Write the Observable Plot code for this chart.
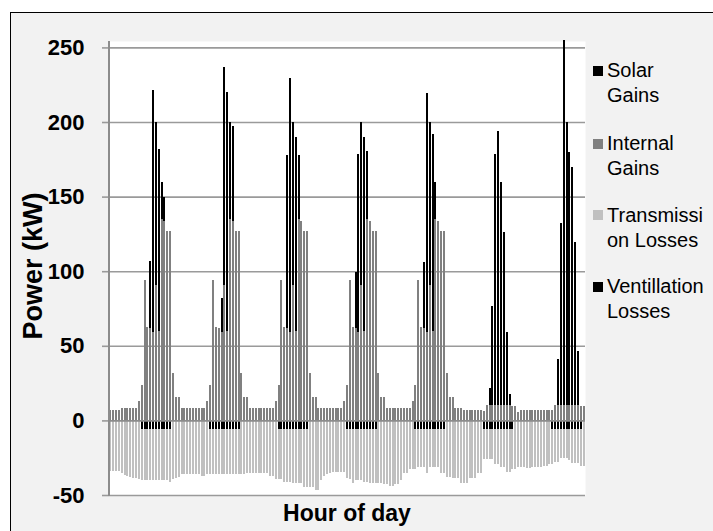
<!DOCTYPE html>
<html><head><meta charset="utf-8">
<script src="https://cdn.jsdelivr.net/npm/d3@7"></script>
<script src="https://cdn.jsdelivr.net/npm/@observablehq/plot@0.6"></script>
<style>
html,body{margin:0;padding:0;background:#fff;}
#wrap{position:relative;width:713px;height:531px;overflow:hidden;font-family:"Liberation Sans",Arial,sans-serif;}
#bg{position:absolute;left:10px;top:12px;width:800px;height:600px;border:1px solid #000;background:#f2f2f2;}
#chart{position:absolute;left:0;top:0;}
#axisline{position:absolute;left:108.2px;top:41px;width:1.7px;height:455px;background:#8c8c8c;}
.legsq{position:absolute;left:593px;width:10px;height:10px;}
.legtx{position:absolute;left:607px;font-size:20px;line-height:25px;color:#000;white-space:nowrap;}
#xtitle{position:absolute;left:347px;top:502px;transform:translateX(-50%);font-size:23px;line-height:23px;font-weight:bold;white-space:nowrap;color:#000;}
#ytitle{position:absolute;left:33px;top:266px;transform:translate(-50%,-50%) rotate(-90deg);font-size:27px;line-height:27px;font-weight:bold;white-space:nowrap;color:#000;}
</style></head>
<body>
<div id="wrap"><div id="bg"></div><div id="chart"></div><div id="axisline"></div>
<div id="xtitle">Hour of day</div><div id="ytitle">Power (kW)</div>
</div>
<script>
// Hour-of-week categories (167 bars)
const hours = d3.range(167);
const yTicks = [-50, 0, 50, 100, 150, 200, 250];

// Internal gains (kW), one line per day
const internalGains = [
 6.7,6.7,6.7,6.7,8,8,8,8,8,8,12.7,23.5,94,62.6,62,59,90.6,60,135,133.5,127,127,32,15.6,
 15.6,8,8,8,8,8,8,8,8,8,12.7,23.5,94,62.6,62,59,90.6,60,135,133.5,127,127,32,15.6,
 15.6,8,8,8,8,8,8,8,8,8,12.7,23.5,94,62.6,62,59,90.6,60,135,133.5,127,127,32,15.6,
 15.6,8,8,8,8,8,8,8,8,8,12.7,23.5,94,62.6,62,59,90.6,60,135,133.5,127,127,32,15.6,
 15.6,8,8,8,8,8,8,8,8,8,12.7,23.5,94,62.6,62,59,90.6,60,135,133.5,127,127,32,15.6,
 15.6,8,8,8,6.7,6.7,6.7,6.7,6.7,6.7,6.7,6,10,10,10,10,10,10,10,10,10,9.4,9.4,5.4,
 6.7,6.7,6.7,6.7,6.7,6.7,6.7,6.7,6.7,6.7,6.7,6.7,10,10,10,10,10,10,10,10,10,9.4,9.4
];
// Solar gains (kW), stacked on internal gains
const solarGains = [
 0,0,0,0,0,0,0,0,0,0,0,0,0,0,45,162.5,109.4,122,24.5,16.5,0,0,0,0,
 0,0,0,0,0,0,0,0,0,0,0,0,0,0,0,23,146.4,160,65,63.5,0,0,0,0,
 0,0,0,0,0,0,0,0,0,0,0,0,0,0,116,170.5,109.4,130,43,0,0,0,0,0,
 0,0,0,0,0,0,0,0,0,0,0,0,0,0,37.5,119.5,109.4,130,45.5,0,0,0,0,0,
 0,0,0,0,0,0,0,0,0,0,0,0,0,0,44,160.6,109.4,132,25,0,0,0,0,0,
 0,0,0,0,0,0,0,0,0,0,0,0,0,12,67,168.5,184,149.5,116,49,8,0,0,0,
 0,0,0,0,0,0,0,0,0,0,0,0,0,31,122,245,190,170,160,109.5,36.3,0,0
];
// Ventilation losses (kW)
const ventilationLosses = [
 0,0,0,0,0,0,0,0,0,0,0,-6,-6,-6,-6,-6,-6,-6,-6,-6,-6,-6,0,0,
 0,0,0,0,0,0,0,0,0,0,0,-6,-6,-6,-6,-6,-6,-6,-6,-6,-6,-6,0,0,
 0,0,0,0,0,0,0,0,0,0,0,-6,-6,-6,-6,-6,-6,-6,-6,-6,-6,-6,0,0,
 0,0,0,0,0,0,0,0,0,0,0,-6,-6,-6,-6,-6,-6,-6,-6,-6,-6,-6,0,0,
 0,0,0,0,0,0,0,0,0,0,0,-6,-6,-6,-6,-6,-6,-6,-6,-6,-6,-6,0,0,
 0,0,0,0,0,0,0,0,0,0,0,-6,-6,-6,-6,-6,-6,-6,-6,-6,-6,-6,0,0,
 0,0,0,0,0,0,0,0,0,0,0,-6,-6,-6,-6,-6,-6,-6,-6,-6,-6,-6,0
];
// Transmission losses (kW), stacked below ventilation losses
const transmissionLosses = [
 -34,-34,-34,-34,-35.5,-36.5,-37,-37.7,-38.4,-38.4,-39,-33.7,-33.7,-33.7,-33.7,-33.7,-33.7,-33.7,-33.7,-33.7,-33.7,-35.5,-39.5,-38.5,
 -38,-36,-36,-36,-36,-36,-36,-36,-37,-37,-36,-30,-30,-30,-30,-30,-30,-30,-30,-30,-30,-30,-36,-36,
 -35,-35,-35,-35,-35,-35,-35,-35,-37,-37,-39,-33,-33,-35,-35,-35,-36,-36,-36,-36,-38.4,-38.4,-44.4,-44.4,
 -46.5,-46.5,-40,-37.5,-36,-35,-34.3,-34.3,-34.3,-34.3,-34.3,-32.8,-33.5,-35.7,-34,-34,-34,-35.2,-35.2,-35.7,-35.7,-35.7,-41.7,-41.7,
 -42.6,-42.6,-43.7,-43.7,-42.6,-42.6,-40,-35.5,-35.5,-32.8,-32.8,-26.8,-25.5,-25.5,-25.5,-29,-25.5,-25.5,-25.5,-25.5,-29.5,-29.5,-37.7,-37.7,
 -38.8,-38.8,-38.8,-41.7,-41.7,-41.7,-38.8,-38.8,-38.8,-35,-35,-20,-20,-20,-20,-23.2,-23.2,-25,-25,-28.4,-28.4,-26.8,-32.8,-31.5,
 -31.5,-31.5,-32.2,-32.2,-31,-31,-31,-31,-30.6,-30.6,-29.4,-23.4,-21.6,-21.6,-19.4,-19.4,-19.4,-20.5,-22.7,-22.7,-22.7,-24.6,-30.6
];

const seriesNames = ["Internal Gains", "Solar Gains", "Ventillation Losses", "Transmission Losses"];
const seriesColors = ["#808080", "#000000", "#000000", "#c0c0c0"];
const seriesValues = [internalGains, solarGains, ventilationLosses, transmissionLosses];

// legend (as shown, top to bottom)
const legendLines = [["Solar","Gains"],["Internal","Gains"],["Transmissi","on Losses"],["Ventillation","Losses"]];
const legendColors = ["#000000", "#808080", "#c0c0c0", "#000000"];

const rows = [];
seriesValues.forEach((vals, s) => vals.forEach((v, i) => rows.push({hour: hours[i], series: seriesNames[s], value: v})));

const font = '"Liberation Sans", Arial, sans-serif';
const chart = Plot.plot({
  width: 713, height: 531,
  marginLeft: 109, marginRight: 128, marginTop: 41, marginBottom: 36,
  style: {background: "transparent", fontFamily: font, overflow: "visible"},
  x: {type: "band", domain: hours, paddingInner: 0.3, paddingOuter: 0.1, axis: null},
  y: {domain: [-50, 254.3], axis: null},
  color: {domain: seriesNames, range: seriesColors},
  marks: [
    Plot.frame({fill: "white", stroke: "none"}),
    Plot.ruleY(yTicks.filter(d => d !== 0), {stroke: "#9a9a9a", strokeWidth: 1.6}),
    Plot.barY(rows, {x: "hour", y: "value", fill: "series", shapeRendering: "crispEdges"}),
    Plot.ruleY([0], {stroke: "#8c8c8c", strokeWidth: 1.8}),
    Plot.axisY({ticks: yTicks, tickSize: 7, tickPadding: 18, fontSize: 22, fontWeight: "bold", fill: "#000", stroke: "#9a9a9a", strokeWidth: 1.6, label: null, tickFormat: d => String(d)})
  ]
});
document.getElementById("chart").appendChild(chart);

const wrap = document.getElementById("wrap");
const baselines = [77.3, 150, 221.7, 293.3];
legendLines.forEach((lines, k) => {
  const sq = document.createElement("div");
  sq.className = "legsq";
  sq.style.top = (baselines[k] - 11.3) + "px";
  sq.style.background = legendColors[k];
  wrap.appendChild(sq);
  const tx = document.createElement("div");
  tx.className = "legtx";
  tx.style.top = (baselines[k] - 19.1) + "px";
  tx.innerHTML = lines.join("<br>");
  wrap.appendChild(tx);
});
</script>
</body></html>
